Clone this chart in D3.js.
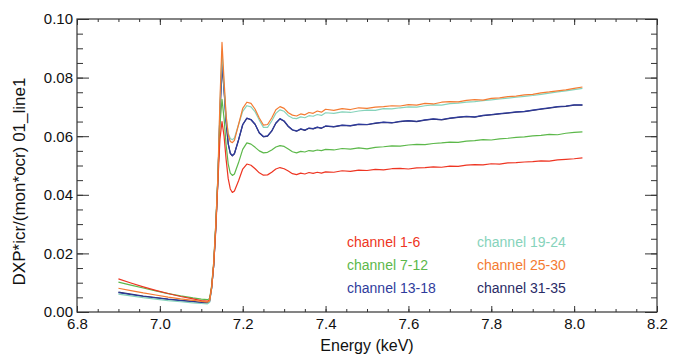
<!DOCTYPE html>
<html>
<head>
<meta charset="utf-8">
<script src="https://cdn.jsdelivr.net/npm/d3@7"></script>
<style>
  body { margin: 0; background: #fff; }
  svg { display: block; }
</style>
</head>
<body>
<div class="xasChart"></div>
<script>
// Paramètres de visualisation
const width = 673;
const height = 357;
const margin = { top: 19, right: 16, bottom: 45, left: 77 };

// Energies (keV)
const energy = [6.90, 6.93, 6.96, 6.99, 7.02, 7.05, 7.08, 7.10, 7.115, 7.12,
  7.125, 7.13, 7.135, 7.14, 7.145, 7.15, 7.155, 7.16, 7.165, 7.17,
  7.175, 7.18, 7.19, 7.20, 7.21, 7.22, 7.23, 7.24, 7.25, 7.26,
  7.27, 7.28, 7.29, 7.30, 7.31, 7.32, 7.33, 7.34, 7.35, 7.36,
  7.37, 7.38, 7.39, 7.40, 7.42, 7.44, 7.46, 7.48, 7.50, 7.52,
  7.54, 7.56, 7.58, 7.60, 7.62, 7.64, 7.66, 7.68, 7.70, 7.72,
  7.74, 7.76, 7.78, 7.80, 7.82, 7.84, 7.86, 7.88, 7.90, 7.92,
  7.94, 7.96, 7.98, 8.00, 8.02];

// Séries (une par groupe de canaux)
const ch1_6 = [0.0113, 0.0099, 0.0086, 0.0074, 0.0063, 0.0053, 0.0045, 0.0039, 0.0037, 0.0041,
  0.0085, 0.016, 0.028, 0.044, 0.059, 0.0650, 0.0600, 0.0520, 0.0455, 0.0420,
  0.0408, 0.0413, 0.0448, 0.0488, 0.0505, 0.0501, 0.0489, 0.0475, 0.0467, 0.0468,
  0.0477, 0.0488, 0.0493, 0.0489, 0.0481, 0.0472, 0.0469, 0.0474, 0.0471, 0.0476,
  0.0473, 0.0477, 0.0474, 0.0478, 0.0477, 0.0482, 0.0480, 0.0484, 0.0483, 0.0487,
  0.0485, 0.0489, 0.0490, 0.0488, 0.0492, 0.0493, 0.0495, 0.0494, 0.0498, 0.0497,
  0.0501, 0.0503, 0.0502, 0.0506, 0.0505, 0.0509, 0.0510, 0.0512, 0.0513, 0.0516,
  0.0515, 0.0519, 0.0521, 0.0523, 0.0526];

const ch7_12 = [0.0102, 0.0092, 0.0082, 0.0072, 0.0063, 0.0055, 0.0048, 0.0044, 0.0042, 0.0046,
  0.0090, 0.017, 0.030, 0.046, 0.064, 0.0726, 0.0660, 0.0570, 0.0505, 0.0474,
  0.0466, 0.0471, 0.0510, 0.0555, 0.0577, 0.0573, 0.0562, 0.0550, 0.0543, 0.0545,
  0.0553, 0.0563, 0.0568, 0.0565, 0.0556, 0.0547, 0.0543, 0.0548, 0.0546, 0.0551,
  0.0549, 0.0553, 0.0551, 0.0555, 0.0553, 0.0558, 0.0556, 0.0560, 0.0557, 0.0562,
  0.0564, 0.0567, 0.0566, 0.0570, 0.0572, 0.0571, 0.0575, 0.0577, 0.0580, 0.0579,
  0.0583, 0.0585, 0.0588, 0.0587, 0.0591, 0.0593, 0.0596, 0.0598, 0.0601, 0.0603,
  0.0606, 0.0605, 0.0610, 0.0613, 0.0615];

const ch13_18 = [0.0066, 0.0059, 0.0053, 0.0048, 0.0043, 0.0039, 0.0035, 0.0032, 0.0031, 0.0036,
  0.0082, 0.016, 0.029, 0.045, 0.068, 0.0850, 0.0760, 0.0650, 0.0575, 0.0542,
  0.0534, 0.0541, 0.0588, 0.0640, 0.0662, 0.0657, 0.0641, 0.0612, 0.0599, 0.0601,
  0.0618, 0.0645, 0.0660, 0.0652, 0.0634, 0.0622, 0.0618, 0.0625, 0.0621, 0.0628,
  0.0626, 0.0631, 0.0628, 0.0635, 0.0633, 0.0638, 0.0636, 0.0641, 0.0640, 0.0645,
  0.0648, 0.0646, 0.0651, 0.0653, 0.0651, 0.0656, 0.0659, 0.0657, 0.0662, 0.0665,
  0.0668, 0.0666, 0.0671, 0.0674, 0.0677, 0.0680, 0.0683, 0.0685, 0.0689, 0.0693,
  0.0697, 0.0701, 0.0703, 0.0707, 0.0707];

const ch19_24 = [0.0061, 0.0055, 0.0049, 0.0044, 0.0039, 0.0035, 0.0031, 0.0029, 0.0028, 0.0033,
  0.0080, 0.016, 0.029, 0.045, 0.070, 0.0890, 0.0770, 0.0665, 0.0610, 0.0592,
  0.0588, 0.0594, 0.0640, 0.0685, 0.0704, 0.0700, 0.0683, 0.0655, 0.0630, 0.0630,
  0.0652, 0.0678, 0.0690, 0.0685, 0.0670, 0.0662, 0.0660, 0.0666, 0.0663, 0.0670,
  0.0668, 0.0674, 0.0671, 0.0680, 0.0678, 0.0683, 0.0681, 0.0686, 0.0689, 0.0688,
  0.0694, 0.0693, 0.0697, 0.0700, 0.0699, 0.0704, 0.0707, 0.0706, 0.0711, 0.0713,
  0.0716, 0.0718, 0.0721, 0.0724, 0.0727, 0.0730, 0.0733, 0.0736, 0.0739, 0.0743,
  0.0747, 0.0751, 0.0755, 0.0759, 0.0763];

const ch25_30 = [0.0081, 0.0073, 0.0065, 0.0058, 0.0051, 0.0045, 0.0040, 0.0036, 0.0034, 0.0038,
  0.0085, 0.017, 0.030, 0.046, 0.072, 0.0920, 0.0790, 0.0670, 0.0605, 0.0582,
  0.0578, 0.0586, 0.0640, 0.0695, 0.0716, 0.0712, 0.0692, 0.0662, 0.0638, 0.0640,
  0.0662, 0.0690, 0.0701, 0.0695, 0.0680, 0.0672, 0.0669, 0.0676, 0.0673, 0.0681,
  0.0678, 0.0686, 0.0682, 0.0692, 0.0688, 0.0694, 0.0691, 0.0697, 0.0695, 0.0699,
  0.0701, 0.0704, 0.0703, 0.0708, 0.0706, 0.0712, 0.0710, 0.0716, 0.0718, 0.0717,
  0.0722, 0.0725, 0.0723, 0.0729, 0.0731, 0.0735, 0.0737, 0.0741, 0.0743, 0.0748,
  0.0751, 0.0755, 0.0758, 0.0763, 0.0768];

const ch31_35 = [0.0068, 0.0061, 0.0054, 0.0049, 0.0044, 0.0040, 0.0036, 0.0033, 0.0032, 0.0036,
  0.0082, 0.016, 0.029, 0.045, 0.067, 0.0845, 0.0755, 0.0648, 0.0574, 0.0541,
  0.0533, 0.0540, 0.0587, 0.0639, 0.0661, 0.0656, 0.0640, 0.0611, 0.0598, 0.0600,
  0.0617, 0.0644, 0.0659, 0.0651, 0.0633, 0.0621, 0.0617, 0.0624, 0.0620, 0.0627,
  0.0625, 0.0630, 0.0627, 0.0634, 0.0632, 0.0637, 0.0635, 0.0640, 0.0639, 0.0644,
  0.0647, 0.0645, 0.0650, 0.0652, 0.0650, 0.0655, 0.0658, 0.0656, 0.0661, 0.0664,
  0.0667, 0.0665, 0.0670, 0.0673, 0.0676, 0.0679, 0.0682, 0.0684, 0.0688, 0.0692,
  0.0696, 0.0700, 0.0702, 0.0706, 0.0706];

// Légende et couleurs
const seriesNames = ["channel 1-6", "channel 7-12", "channel 13-18", "channel 19-24", "channel 25-30", "channel 31-35"];
const seriesValues = [ch1_6, ch7_12, ch13_18, ch19_24, ch25_30, ch31_35];
const seriesColors = ["#ee3522", "#5cb84a", "#2f3c9c", "#86d3bb", "#f47b32", "#2a2b66"];
// ordre de tracé (31-35 caché sous 13-18)
const drawOrder = [5, 2, 3, 1, 0, 4];

// Graduations
const xTicks = [6.8, 7.0, 7.2, 7.4, 7.6, 7.8, 8.0, 8.2];
const yTicks = [0.00, 0.02, 0.04, 0.06, 0.08, 0.10];

function setup() {
    const svg = d3.select(".xasChart")
    .append("svg")
    .attr("width", width)
    .attr("height", height)
    .style("font-family", "'Liberation Sans', Arial, Helvetica, sans-serif");

    // Echelles
    const x = d3.scaleLinear()
    .domain([6.8, 8.2])
    .range([margin.left, width - margin.right]);

    const y = d3.scaleLinear()
    .domain([0, 0.10])
    .range([height - margin.bottom, margin.top]);

    const x0 = margin.left, x1 = width - margin.right;
    const y0 = height - margin.bottom, y1 = margin.top;

    const xMinor = d3.range(6.8, 8.2001, 0.05);
    const yMinor = d3.range(0, 0.10001, 0.005);

    // Courbes
    const line = d3.line()
    .x((d, i) => x(energy[i]))
    .y(d => y(d));

    const curves = svg.append("g")
    .attr("fill", "none")
    .attr("stroke-width", 1.2)
    .attr("stroke-linejoin", "round");

    drawOrder.forEach(k => {
        curves.append("path")
        .attr("d", line(seriesValues[k]))
        .attr("stroke", seriesColors[k]);
    });

    // Axes : graduations mineures puis majeures, vers l'intérieur
    const axisStyle = g => {
        g.select(".domain").remove();
        g.selectAll("line").attr("stroke", "#333");
        g.selectAll("text").attr("fill", "#111").style("font-size", "15px");
    };

    svg.append("g").attr("transform", `translate(0,${y0})`)
    .call(d3.axisBottom(x).tickValues(xMinor).tickSize(-3).tickFormat("")).call(axisStyle);
    svg.append("g").attr("transform", `translate(0,${y0})`)
    .call(d3.axisBottom(x).tickValues(xTicks).tickSize(-6).tickPadding(6).tickFormat(d3.format(".1f"))).call(axisStyle);

    svg.append("g").attr("transform", `translate(0,${y1})`)
    .call(d3.axisTop(x).tickValues(xMinor).tickSize(-3).tickFormat("")).call(axisStyle);
    svg.append("g").attr("transform", `translate(0,${y1})`)
    .call(d3.axisTop(x).tickValues(xTicks).tickSize(-6).tickFormat("")).call(axisStyle);

    svg.append("g").attr("transform", `translate(${x0},0)`)
    .call(d3.axisLeft(y).tickValues(yMinor).tickSize(-6).tickFormat("")).call(axisStyle);
    svg.append("g").attr("transform", `translate(${x0},0)`)
    .call(d3.axisLeft(y).tickValues(yTicks).tickSize(-12).tickPadding(4).tickFormat(d3.format(".2f"))).call(axisStyle);

    svg.append("g").attr("transform", `translate(${x1},0)`)
    .call(d3.axisRight(y).tickValues(yMinor).tickSize(-6).tickFormat("")).call(axisStyle);
    svg.append("g").attr("transform", `translate(${x1},0)`)
    .call(d3.axisRight(y).tickValues(yTicks).tickSize(-12).tickFormat("")).call(axisStyle);

    // Cadre
    svg.append("rect")
    .attr("x", x0).attr("y", y1)
    .attr("width", x1 - x0).attr("height", y0 - y1)
    .attr("fill", "none")
    .attr("stroke", "#333")
    .attr("stroke-width", 1.2);

    // Titres des axes
    svg.append("text")
    .attr("x", (x0 + x1) / 2)
    .attr("y", 351)
    .attr("text-anchor", "middle")
    .style("font-size", "16px")
    .attr("fill", "#111")
    .text("Energy (keV)");

    svg.append("text")
    .attr("transform", `translate(25, ${(y0 + y1) / 2 + 16}) rotate(-90)`)
    .attr("text-anchor", "middle")
    .style("font-size", "17px")
    .attr("fill", "#111")
    .text("DXP*icr/(mon*ocr) 01_line1");

    // Légende (2 colonnes x 3 lignes)
    svg.append("g")
    .selectAll("text")
    .data(seriesNames)
    .join("text")
    .attr("x", (d, i) => i < 3 ? 347 : 477)
    .attr("y", (d, i) => 247 + (i % 3) * 22.8)
    .style("font-size", "14px")
    .attr("fill", (d, i) => seriesColors[i])
    .text(d => d);
}

setup();
</script>
</body>
</html>
